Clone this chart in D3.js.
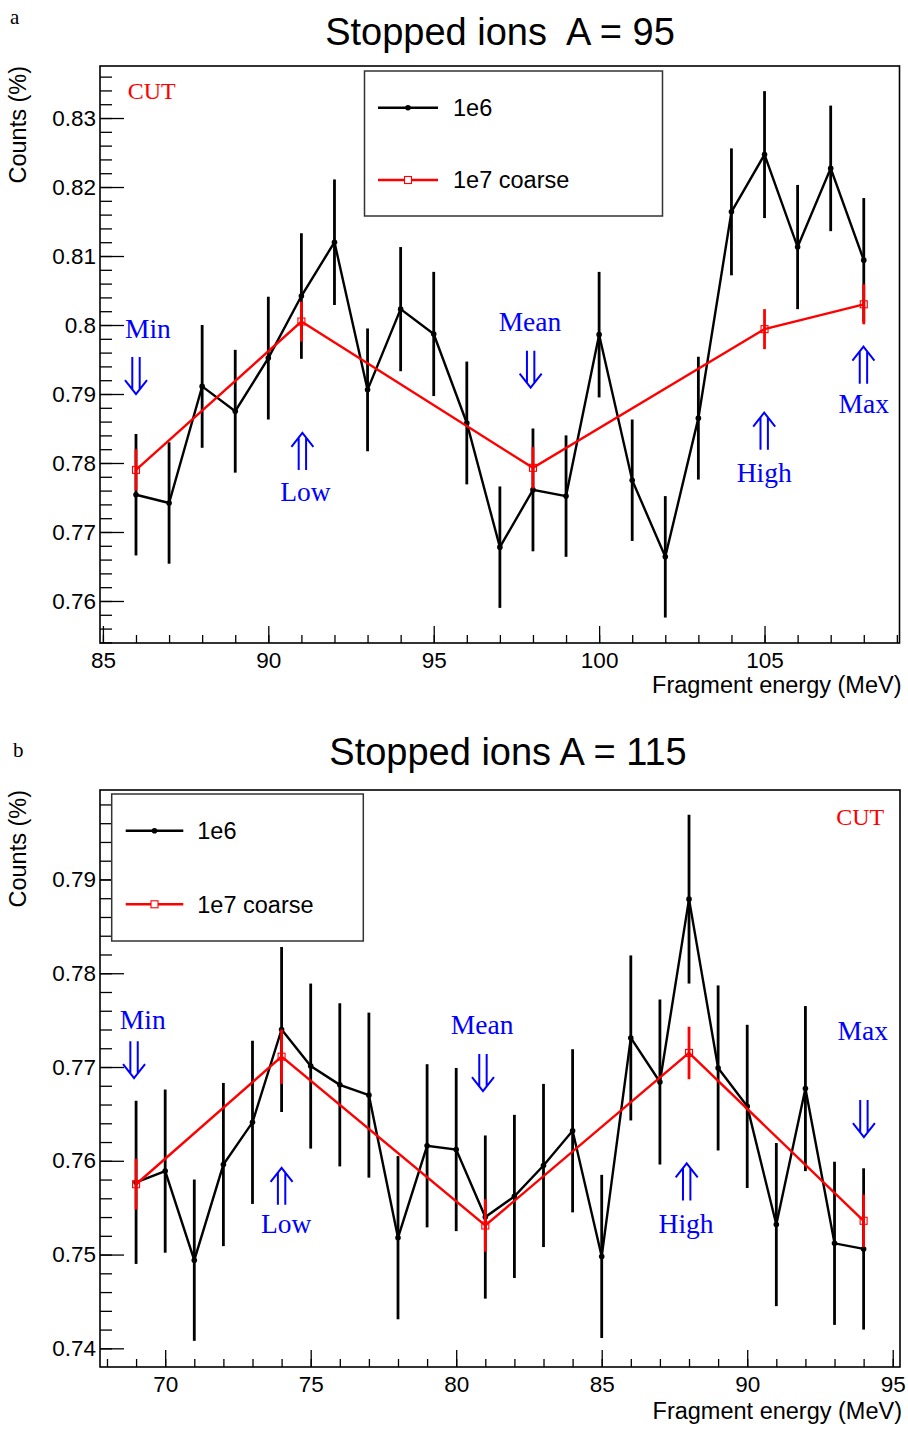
<!DOCTYPE html>
<html><head><meta charset="utf-8">
<script src="https://cdn.jsdelivr.net/npm/d3@7"></script>
<style>body{margin:0;background:#fff} svg{display:block}</style>
</head><body>
<svg id="c" width="908" height="1432"></svg>
<script>
// ---------- Panel a : A = 95 ----------
const titleA = "Stopped ions  A = 95";
const energyA = [86,87,88,89,90,91,92,93,94,95,96,97,98,99,100,101,102,103,104,105,106,107,108];
const counts1e6A = [0.7754,0.7742,0.7911,0.7875,0.7952,0.8042,0.8120,0.7906,0.8023,0.7987,0.7858,0.7678,0.7761,0.7752,0.7986,0.7775,0.7664,0.7865,0.8164,0.8247,0.8113,0.8227,0.8094];
const err1e6A = [0.0088,0.0088,0.0089,0.0089,0.0089,0.0091,0.0091,0.0089,0.0090,0.0090,0.0089,0.0088,0.0089,0.0088,0.0091,0.0088,0.0088,0.0089,0.0092,0.0092,0.0090,0.0091,0.0090];
const energyCoarseA = [86,91,98,105,108];
const counts1e7A = [0.7790,0.8005,0.7793,0.7994,0.8030];
const err1e7A = [0.0030,0.0029,0.0030,0.0029,0.0029];
const yTicksA = [0.76,0.77,0.78,0.79,0.80,0.81,0.82,0.83];
const xTicksA = [85,90,95,100,105];
const markerLabelsA = ["Min","Low","Mean","High","Max"];
const markerTextXA = [86.36,91.12,97.91,104.99,108.0];
const markerTextYA = [0.79816,0.77454,0.79917,0.77729,0.78720];
const markerArrowXA = [86,91.03,97.93,104.99,107.99];
const markerArrowYA = [0.79536,0.78435,0.79628,0.78729,0.79686];
const markerDirA = ["down","up","down","up","up"];

// ---------- Panel b : A = 115 ----------
const titleB = "Stopped ions A = 115";
const energyB = [69,70,71,72,73,74,75,76,77,78,79,80,81,82,83,84,85,86,87,88,89,90,91,92,93,94];
const counts1e6B = [0.7577,0.7589,0.7494,0.7596,0.7641,0.7740,0.7701,0.7681,0.7670,0.7518,0.7616,0.7612,0.7540,0.7562,0.7595,0.7632,0.7498,0.7731,0.7684,0.7879,0.7699,0.7658,0.7532,0.7677,0.7512,0.7506];
const err1e6B = [0.0087,0.0087,0.0086,0.0087,0.0087,0.0088,0.0088,0.0087,0.0088,0.0087,0.0087,0.0087,0.0087,0.0087,0.0087,0.0087,0.0087,0.0088,0.0088,0.0090,0.0088,0.0087,0.0087,0.0088,0.0087,0.0086];
const energyCoarseB = [69,74,81,88,94];
const counts1e7B = [0.7575,0.7711,0.7531,0.7715,0.7536];
const err1e7B = [0.0027,0.0029,0.0028,0.0028,0.0028];
const yTicksB = [0.74,0.75,0.76,0.77,0.78,0.79];
const xTicksB = [70,75,80,85,90,95];
const markerLabelsB = ["Min","Low","Mean","High","Max"];
const markerTextXB = [69.23,74.16,80.89,87.90,93.97];
const markerTextYB = [0.77401,0.75226,0.77351,0.75232,0.77287];
const markerArrowXB = [68.93,74.0,80.92,87.92,94.01];
const markerArrowYB = [0.77276,0.75925,0.77138,0.75972,0.76647];
const markerDirB = ["down","up","down","up","down"];

const legendLabels = ["1e6","1e7 coarse"];

const svg = d3.select("#c");
const SANS = "'Liberation Sans', Arial, Helvetica, sans-serif";
const SERIF = "'Liberation Serif', 'Times New Roman', serif";

function fmt(d){ return String(+d.toFixed(3)); }

function drawPanel(cfg){
  const {left,right,top,bottom} = cfg.frame;
  const x = d3.scaleLinear().domain(cfg.xDomain).range([left,right]);
  const y = d3.scaleLinear().domain(cfg.yDomain).range([bottom,top]);
  const g = svg.append("g");

  // panel letter
  g.append("text").attr("x",cfg.letterPos[0]).attr("y",cfg.letterPos[1])
    .attr("font-family",SERIF).attr("font-size",21).text(cfg.letter);
  // title
  g.append("text").attr("x",cfg.titlePos[0]).attr("y",cfg.titlePos[1])
    .attr("text-anchor","middle").attr("font-family",SANS).attr("font-size",38)
    .style("white-space","pre").text(cfg.title);

  // minor ticks
  const [x0,x1] = cfg.xDomain, [y0,y1] = cfg.yDomain;
  const xMinor = d3.range(Math.ceil(x0), Math.floor(x1)+1, 1);
  const yMinor = d3.range(Math.ceil(y0/0.002)*0.002, y1, 0.002);
  const xm = g.append("g").attr("transform",`translate(0,${bottom})`)
    .call(d3.axisBottom(x).tickValues(xMinor).tickSize(-8).tickFormat(""));
  xm.select(".domain").remove();
  const ym = g.append("g").attr("transform",`translate(${left},0)`)
    .call(d3.axisLeft(y).tickValues(yMinor).tickSize(-12).tickFormat(""));
  ym.select(".domain").remove();
  // major ticks
  const xa = g.append("g").attr("transform",`translate(0,${bottom})`)
    .call(d3.axisBottom(x).tickValues(cfg.xTicks).tickSize(-17).tickPadding(9).tickFormat(d=>String(d)));
  xa.select(".domain").remove();
  const ya = g.append("g").attr("transform",`translate(${left},0)`)
    .call(d3.axisLeft(y).tickValues(cfg.yTicks).tickSize(-24).tickPadding(4).tickFormat(fmt));
  ya.select(".domain").remove();
  [xm,ym,xa,ya].forEach(a=>{
    a.selectAll("line").attr("stroke","#000").attr("stroke-width",1.3);
    a.selectAll("text").attr("font-family",SANS).attr("font-size",22.5).attr("fill","#000");
  });

  // frame
  g.append("rect").attr("x",left).attr("y",top).attr("width",right-left).attr("height",bottom-top)
    .attr("fill","none").attr("stroke","#000").attr("stroke-width",1.6);

  // axis titles
  g.append("text").attr("transform",`translate(${left-74},${top}) rotate(-90)`)
    .attr("text-anchor","end").attr("font-family",SANS).attr("font-size",23.5).text("Counts (%)");
  g.append("text").attr("x",right+2).attr("y",bottom+cfg.xTitleOff)
    .attr("text-anchor","end").attr("font-family",SANS).attr("font-size",23.5).text("Fragment energy (MeV)");

  // 1e6 series
  const black = cfg.e6x.map((e,i)=>({e, v:cfg.e6v[i], s:cfg.e6s[i]}));
  const red = cfg.e7x.map((e,i)=>({e, v:cfg.e7v[i], s:cfg.e7s[i]}));
  const line = d3.line().x(d=>x(d.e)).y(d=>y(d.v));
  g.append("g").selectAll("line").data(black).join("line")
    .attr("x1",d=>x(d.e)).attr("x2",d=>x(d.e))
    .attr("y1",d=>y(d.v-d.s)).attr("y2",d=>y(d.v+d.s))
    .attr("stroke","#000").attr("stroke-width",2.8);
  g.append("path").datum(black).attr("d",line).attr("fill","none")
    .attr("stroke","#000").attr("stroke-width",2.4);
  g.append("g").selectAll("circle").data(black).join("circle")
    .attr("cx",d=>x(d.e)).attr("cy",d=>y(d.v)).attr("r",2.8).attr("fill","#000");

  // 1e7 coarse
  g.append("g").selectAll("line").data(red).join("line")
    .attr("x1",d=>x(d.e)).attr("x2",d=>x(d.e))
    .attr("y1",d=>y(d.v-d.s)).attr("y2",d=>y(d.v+d.s))
    .attr("stroke","#ff0000").attr("stroke-width",2.8);
  g.append("path").datum(red).attr("d",line).attr("fill","none")
    .attr("stroke","#ff0000").attr("stroke-width",2.4);
  g.append("g").selectAll("rect").data(red).join("rect")
    .attr("x",d=>x(d.e)-3.5).attr("y",d=>y(d.v)-3.5).attr("width",7).attr("height",7)
    .attr("fill","none").attr("stroke","#ff0000").attr("stroke-width",1.1);

  // CUT label
  g.append("text").attr("x",x(cfg.cut[0])).attr("y",y(cfg.cut[1]))
    .attr("text-anchor",cfg.cut[2]).attr("font-family",SERIF).attr("font-size",24)
    .attr("fill","#ff0000").text("CUT");

  // markers (Min/Low/Mean/High/Max)
  cfg.mk.labels.forEach((lab,i)=>{
    g.append("text").attr("x",x(cfg.mk.tx[i])).attr("y",y(cfg.mk.ty[i]))
      .attr("text-anchor","middle").attr("font-family",SERIF).attr("font-size",27.5)
      .attr("fill","#0000ff").text(lab);
    const cx = x(cfg.mk.ax[i]), t = y(cfg.mk.ay[i]);
    let p;
    if(cfg.mk.dir[i]==="down"){
      p = `M${cx-3.7},${t}V${t+32}M${cx+3.7},${t}V${t+32}M${cx-11},${t+23}L${cx},${t+37}L${cx+11},${t+23}`;
    } else {
      p = `M${cx-3.7},${t+37}V${t+5}M${cx+3.7},${t+37}V${t+5}M${cx-11},${t+14}L${cx},${t}L${cx+11},${t+14}`;
    }
    g.append("path").attr("d",p).attr("fill","none").attr("stroke","#0000ff").attr("stroke-width",2);
  });

  // legend
  const L = cfg.legend;
  g.append("rect").attr("x",L.x).attr("y",L.y).attr("width",L.w).attr("height",L.h)
    .attr("fill","#fff").attr("stroke","#333").attr("stroke-width",1.5);
  const rows = [L.row1, L.row2];
  legendLabels.forEach((lab,i)=>{
    const ry = rows[i];
    const col = i===0 ? "#000" : "#ff0000";
    g.append("line").attr("x1",L.lx0).attr("x2",L.lx1).attr("y1",ry).attr("y2",ry)
      .attr("stroke",col).attr("stroke-width",2.4);
    const mx = (L.lx0+L.lx1)/2;
    if(i===0) g.append("circle").attr("cx",mx).attr("cy",ry).attr("r",2.8).attr("fill","#000");
    else g.append("rect").attr("x",mx-3.5).attr("y",ry-3.5).attr("width",7).attr("height",7)
      .attr("fill","#fff").attr("stroke","#ff0000").attr("stroke-width",1.1);
    g.append("text").attr("x",L.tx).attr("y",ry).attr("dy","0.36em")
      .attr("font-family",SANS).attr("font-size",23.5).text(lab);
  });
}

drawPanel({
  letter:"a", letterPos:[10,24], title:titleA, titlePos:[500,45],
  frame:{left:100,right:899.5,top:66,bottom:643}, xTitleOff:50,
  xDomain:[84.912,109.08], yDomain:[0.75391,0.83754],
  xTicks:xTicksA, yTicks:yTicksA,
  e6x:energyA, e6v:counts1e6A, e6s:err1e6A,
  e7x:energyCoarseA, e7v:counts1e7A, e7s:err1e7A,
  cut:[85.75,0.83271,"start"],
  mk:{labels:markerLabelsA, tx:markerTextXA, ty:markerTextYA, ax:markerArrowXA, ay:markerArrowYA, dir:markerDirA},
  legend:{x:364.5,y:71,w:298,h:145,row1:107.7,row2:180,lx0:378,lx1:438,tx:453}
});

drawPanel({
  letter:"b", letterPos:[13,757], title:titleB, titlePos:[508,765],
  frame:{left:100,right:900,top:790,bottom:1367}, xTitleOff:52,
  xDomain:[67.76,95.25], yDomain:[0.73801,0.79954],
  xTicks:xTicksB, yTicks:yTicksB,
  e6x:energyB, e6v:counts1e6B, e6s:err1e6B,
  e7x:energyCoarseB, e7v:counts1e7B, e7s:err1e7B,
  cut:[94.71,0.79579,"end"],
  mk:{labels:markerLabelsB, tx:markerTextXB, ty:markerTextYB, ax:markerArrowXB, ay:markerArrowYB, dir:markerDirB},
  legend:{x:111.7,y:794,w:251.6,h:147,row1:830.7,row2:904.3,lx0:125.7,lx1:183.3,tx:197.3}
});
</script>
</body></html>
